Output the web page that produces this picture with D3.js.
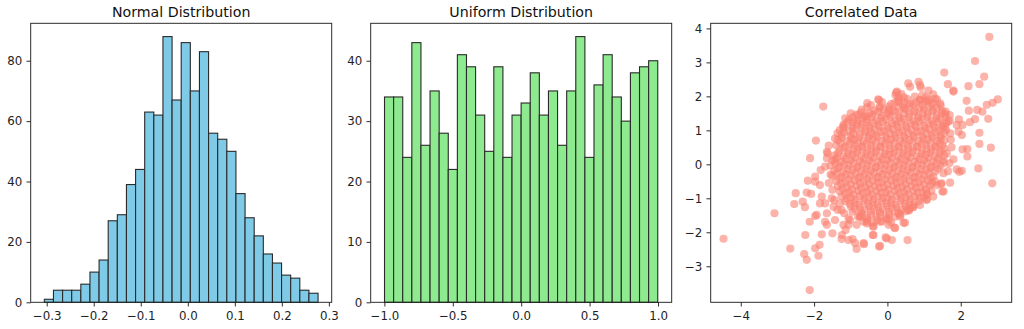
<!DOCTYPE html>
<html><head><meta charset="utf-8">
<script src="https://cdn.jsdelivr.net/npm/d3@7"></script>
<style>
html,body{margin:0;padding:0;background:#fff;}
svg{display:block;font-family:"DejaVu Sans",sans-serif;}
</style></head>
<body>
<svg id="chart" width="1024" height="329"></svg>
<script>
// ---------- DATA ----------
const normalCounts = [1,4,4,4,6,10,14,27,29,39,44,63,62,88,67,86,70,83,56,54,50,36,28,22,16,13,9,8,4,3];
const normalRange = [-0.305, 0.277];
const uniformCounts = [34,34,24,43,26,35,28,22,41,39,31,25,39,24,31,33,38,31,35,26,35,44,24,36,41,34,30,38,39,40];
const uniformRange = [-0.999, 0.998];

const normalXTicks = [-0.3,-0.2,-0.1,0.0,0.1,0.2,0.3];
const normalYTicks = [0,20,40,60,80];
const uniformXTicks = [-1.0,-0.5,0.0,0.5,1.0];
const uniformYTicks = [0,10,20,30,40];
const scatterXTicks = [-4,-2,0,2];
const scatterYTicks = [-3,-2,-1,0,1,2,3,4];

const titles = ["Normal Distribution","Uniform Distribution","Correlated Data"];

// outlying points
const scatterOuter = [
[2.78,3.75],[2.39,3.04],[1.55,2.70],[2.64,2.58],[1.65,2.36],[2.21,2.30],[2.51,2.36],[1.80,2.17],
[3.01,1.91],[2.87,1.81],[2.71,1.75],[2.16,1.87],[2.22,1.58],[2.45,1.60],[2.59,1.55],[2.39,1.33],
[2.75,1.34],[2.25,1.24],[1.95,1.32],[2.05,1.16],[2.51,0.93],[1.94,0.96],[2.03,0.86],[2.51,0.60],
[2.82,0.49],[2.05,0.44],[2.18,0.45],[2.18,0.23],[2.48,-0.12],[1.96,-0.22],[2.03,-0.19],[2.86,-0.56],
[1.71,-0.54],[1.48,-0.56],[1.50,-0.80],[-1.75,1.70],[-1.95,0.70],[-2.11,0.18],[-2.17,-0.48],[-2.50,-0.85],
[-2.54,-1.17],[-2.31,-1.10],[-2.25,-1.26],[-2.20,-0.83],[-2.08,-0.87],[-3.08,-1.44],[-4.47,-2.19],[-1.93,-1.49],
[-1.97,-1.52],[-2.12,-1.69],[-2.24,-2.08],[-2.65,-2.48],[-1.97,-2.47],[-1.85,-2.37],[-2.27,-2.64],[-2.20,-2.81],
[-1.88,-2.69],[-2.12,-3.70],[-1.79,-2.06],[-1.65,-1.78],[-1.50,-2.03],[-1.65,-1.44],[-1.25,-2.20],[-0.95,-2.20],
[-0.84,-2.49],[-0.64,-2.35],[-0.23,-2.42],[-0.05,-2.15],[0.12,-2.23],[0.55,-2.23],[-0.40,-2.08],[-1.14,-1.93],
[-1.06,-1.78],[-0.84,-1.78],[0.19,-1.86],[0.03,-1.78],[0.44,-1.72],[0.59,-1.36],[0.89,-1.20],[1.07,-1.05],
[1.25,-0.95],[0.57,2.38],[0.85,2.43],[0.62,2.28],[0.91,2.26],[1.12,2.17],[0.24,2.11],[0.30,1.97],
[-0.23,1.89],[0.30,1.84],[0.89,1.89],[1.12,1.91],[1.35,1.91],[1.44,1.79],[-0.20,1.70],[0.05,1.60],
[0.45,1.65],[0.62,1.79],[1.59,1.55],[1.66,1.25],[1.57,1.11],[1.89,1.16],[1.71,0.91],[1.73,0.72],
[-0.79,1.45],[-0.61,1.40],[-0.93,1.25],[-1.20,1.11],[-1.36,0.91],[-1.43,0.76],[-1.63,0.32],[-1.65,0.18],
[-1.70,-0.07],[-1.82,-0.17],[-1.97,-0.36],[-1.97,-0.51],[-1.84,-0.61],[-1.79,-0.95],[-1.70,-1.15],[-1.52,-1.00],
[-1.47,-1.25],[-1.43,-1.64],[-1.36,-1.34],[-1.18,-1.44],[-1.06,-1.59],[-0.75,-1.54],[-0.56,-1.69],[-0.38,-1.83],
[-0.20,-1.69],[0.35,-1.54],[0.71,-1.25],[1.07,-0.85],[1.35,-0.61],[1.53,-0.26],[1.69,0.03],[1.62,0.32]
];

// points around the edge of the dense core
const scatterHalo = [
[-1.24,-2.08],[-1.06,-2.23],[-0.88,-2.32],[-0.65,-2.32],[-0.38,-2.08],[-0.20,-2.40],[-0.02,-2.18],[0.21,-1.88],
[0.48,-1.72],[0.03,-1.62],[0.35,-1.49],[0.57,-1.34],[1.07,-1.03],[1.53,-0.80],[1.46,-0.58],[1.89,-0.15],
[-0.56,-1.74],[-0.39,-1.83],[-0.74,-1.54],[-1.02,-1.64],[-1.20,-1.78],[-1.84,-1.15],[-1.70,-1.69],[0.26,2.14],
[0.89,2.33],[1.80,2.14],[-1.65,0.37],[-1.43,0.13],[-1.60,0.55],[-1.55,-0.30],[-1.60,-0.55],[-1.50,-0.75],
[-1.45,-1.05],[-1.30,-1.15],[-1.25,-1.35],[-1.15,1.35],[-1.00,1.50],[-0.55,1.80],[1.75,0.50],[1.70,1.45],
[1.80,0.15],[1.65,-0.20]
];

// dense core points estimated from the blob
const scatterCore = [
[0.22,2.04],[0.38,2.07],[0.95,2.03],[1.25,2.06],
[-0.25,1.91],[0.30,1.88],[0.55,1.92],[0.88,1.90],[1.10,1.87],[1.30,1.93],
[-0.45,1.74],[0.10,1.77],[0.42,1.73],[0.70,1.76],[0.95,1.74],[1.20,1.77],[1.45,1.73],
[-0.70,1.61],[-0.35,1.58],[-0.10,1.62],[0.15,1.59],[0.50,1.61],[0.75,1.58],[1.00,1.62],[1.25,1.60],[1.50,1.57],
[-0.85,1.46],[-0.60,1.44],[-0.40,1.47],[-0.15,1.43],[0.05,1.46],[0.30,1.44],[0.60,1.47],[0.85,1.43],[1.10,1.46],[1.35,1.44],[1.58,1.47],
[-1.05,1.31],[-0.80,1.28],[-0.55,1.32],[-0.30,1.29],[-0.05,1.31],[0.20,1.28],[0.45,1.32],[0.70,1.29],[0.95,1.31],[1.20,1.28],[1.45,1.32],[1.70,1.29],
[-1.20,1.16],[-0.95,1.13],[-0.70,1.17],[-0.50,1.14],[-0.25,1.16],[0.00,1.13],[0.25,1.17],[0.50,1.14],[0.75,1.16],[1.00,1.13],[1.25,1.17],[1.50,1.14],
[-1.30,1.01],[-1.05,0.98],[-0.85,1.02],[-0.60,0.99],[-0.35,1.01],[-0.10,0.98],[0.15,1.02],[0.40,0.99],[0.65,1.01],[0.90,0.98],[1.15,1.02],[1.40,0.99],[1.60,1.01],
[-1.25,0.86],[-1.00,0.83],[-0.75,0.87],[-0.50,0.84],[-0.30,0.86],[-0.05,0.83],[0.20,0.87],[0.45,0.84],[0.70,0.86],[0.95,0.83],[1.20,0.87],[1.45,0.84],
[-1.35,0.71],[-1.10,0.68],[-0.90,0.72],[-0.65,0.69],[-0.40,0.71],[-0.15,0.68],[0.10,0.72],[0.35,0.69],[0.60,0.71],[0.85,0.68],[1.10,0.72],[1.35,0.69],[1.55,0.71],
[-1.40,0.56],[-1.15,0.53],[-0.90,0.57],[-0.70,0.54],[-0.45,0.56],[-0.20,0.53],[0.05,0.57],[0.30,0.54],[0.55,0.56],[0.80,0.53],[1.05,0.57],[1.30,0.54],[1.50,0.56],
[-1.30,0.41],[-1.05,0.38],[-0.80,0.42],[-0.55,0.39],[-0.30,0.41],[-0.05,0.38],[0.20,0.42],[0.45,0.39],[0.70,0.41],[0.95,0.38],[1.20,0.42],[1.45,0.39],
[-1.45,0.26],[-1.20,0.23],[-0.95,0.27],[-0.70,0.24],[-0.45,0.26],[-0.20,0.23],[0.05,0.27],[0.30,0.24],[0.55,0.26],[0.80,0.23],[1.05,0.27],[1.30,0.24],[1.55,0.26],
[-1.50,0.11],[-1.25,0.08],[-1.00,0.12],[-0.75,0.09],[-0.50,0.11],[-0.25,0.08],[0.00,0.12],[0.25,0.09],[0.50,0.11],[0.75,0.08],[1.00,0.12],[1.25,0.09],[1.50,0.11],
[-1.55,-0.04],[-1.30,-0.07],[-1.05,-0.03],[-0.80,-0.06],[-0.55,-0.04],[-0.30,-0.07],[-0.05,-0.03],[0.20,-0.06],[0.45,-0.04],[0.70,-0.07],[0.95,-0.03],[1.20,-0.06],[1.45,-0.04],
[-1.45,-0.19],[-1.20,-0.22],[-0.95,-0.18],[-0.70,-0.21],[-0.45,-0.19],[-0.20,-0.22],[0.05,-0.18],[0.30,-0.21],[0.55,-0.19],[0.80,-0.22],[1.05,-0.18],[1.30,-0.21],
[-1.50,-0.34],[-1.25,-0.37],[-1.00,-0.33],[-0.75,-0.36],[-0.50,-0.34],[-0.25,-0.37],[0.00,-0.33],[0.25,-0.36],[0.50,-0.34],[0.75,-0.37],[1.00,-0.33],[1.25,-0.36],
[-1.40,-0.49],[-1.15,-0.52],[-0.90,-0.48],[-0.65,-0.51],[-0.40,-0.49],[-0.15,-0.52],[0.10,-0.48],[0.35,-0.51],[0.60,-0.49],[0.85,-0.52],[1.10,-0.48],[1.30,-0.51],
[-1.35,-0.64],[-1.10,-0.67],[-0.85,-0.63],[-0.60,-0.66],[-0.35,-0.64],[-0.10,-0.67],[0.15,-0.63],[0.40,-0.66],[0.65,-0.64],[0.90,-0.67],[1.15,-0.63],
[-1.30,-0.79],[-1.05,-0.82],[-0.80,-0.78],[-0.55,-0.81],[-0.30,-0.79],[-0.05,-0.82],[0.20,-0.78],[0.45,-0.81],[0.70,-0.79],[0.95,-0.82],[1.20,-0.78],
[-1.25,-0.94],[-1.00,-0.97],[-0.75,-0.93],[-0.50,-0.96],[-0.25,-0.94],[0.00,-0.97],[0.25,-0.93],[0.50,-0.96],[0.75,-0.94],[1.00,-0.97],
[-1.15,-1.09],[-0.90,-1.12],[-0.65,-1.08],[-0.40,-1.11],[-0.15,-1.09],[0.10,-1.12],[0.35,-1.08],[0.60,-1.11],[0.85,-1.09],
[-1.00,-1.24],[-0.75,-1.27],[-0.50,-1.23],[-0.25,-1.26],[0.00,-1.24],[0.25,-1.27],[0.50,-1.23],[0.70,-1.26],
[-0.95,-1.39],[-0.70,-1.42],[-0.45,-1.38],[-0.20,-1.41],[0.05,-1.39],[0.30,-1.42],[0.50,-1.38],
[-0.80,-1.54],[-0.55,-1.57],[-0.30,-1.53],[-0.05,-1.56],[0.20,-1.54],
[-0.65,-1.69],[-0.40,-1.72],[-0.15,-1.68],[0.10,-1.71]
];

// second, interleaved layer of the dense core
const scatterCore2 = [
[0.45,1.97],[0.75,1.99],[1.05,1.96],
[-0.15,1.83],[0.20,1.81],[0.45,1.84],[0.78,1.82],[1.02,1.85],[1.25,1.81],
[-0.55,1.68],[-0.22,1.66],[0.03,1.69],[0.30,1.67],[0.60,1.70],[0.87,1.66],[1.12,1.69],[1.35,1.67],
[-0.72,1.53],[-0.48,1.51],[-0.25,1.54],[0.00,1.52],[0.22,1.55],[0.45,1.51],[0.72,1.54],[0.97,1.52],[1.22,1.55],[1.47,1.51],
[-0.95,1.38],[-0.68,1.36],[-0.43,1.39],[-0.18,1.37],[0.08,1.40],[0.33,1.36],[0.58,1.39],[0.83,1.37],[1.08,1.40],[1.33,1.36],[1.58,1.39],
[-1.10,1.23],[-0.83,1.21],[-0.58,1.24],[-0.37,1.22],[-0.12,1.25],[0.13,1.21],[0.38,1.24],[0.63,1.22],[0.88,1.25],[1.13,1.21],[1.38,1.24],[1.60,1.22],
[-1.20,1.08],[-0.95,1.06],[-0.72,1.09],[-0.47,1.07],[-0.22,1.10],[0.03,1.06],[0.28,1.09],[0.53,1.07],[0.78,1.10],[1.03,1.06],[1.28,1.09],[1.50,1.07],
[-1.18,0.93],[-0.93,0.91],[-0.62,0.94],[-0.42,0.92],[-0.17,0.95],[0.07,0.91],[0.32,0.94],[0.57,0.92],[0.82,0.95],[1.07,0.91],[1.32,0.94],[1.55,0.92],
[-1.25,0.78],[-0.98,0.76],[-0.77,0.79],[-0.52,0.77],[-0.27,0.80],[-0.02,0.76],[0.23,0.79],[0.48,0.77],[0.73,0.80],[0.98,0.76],[1.23,0.79],[1.45,0.77],
[-1.28,0.63],[-1.02,0.61],[-0.80,0.64],[-0.57,0.62],[-0.32,0.65],[-0.07,0.61],[0.18,0.64],[0.43,0.62],[0.68,0.65],[0.93,0.61],[1.18,0.64],[1.42,0.62],
[-1.20,0.48],[-0.93,0.46],[-0.68,0.49],[-0.43,0.47],[-0.18,0.50],[0.07,0.46],[0.32,0.49],[0.57,0.47],[0.82,0.50],[1.07,0.46],[1.32,0.49],[1.55,0.47],
[-1.35,0.33],[-1.08,0.31],[-0.83,0.34],[-0.58,0.32],[-0.33,0.35],[-0.08,0.31],[0.17,0.34],[0.42,0.32],[0.67,0.35],[0.92,0.31],[1.17,0.34],[1.42,0.32],
[-1.38,0.18],[-1.13,0.16],[-0.88,0.19],[-0.63,0.17],[-0.38,0.20],[-0.13,0.16],[0.12,0.19],[0.37,0.17],[0.62,0.20],[0.87,0.16],[1.12,0.19],[1.38,0.17],
[-1.42,0.03],[-1.18,0.01],[-0.93,0.04],[-0.68,0.02],[-0.43,0.05],[-0.18,0.01],[0.07,0.04],[0.32,0.02],[0.57,0.05],[0.82,0.01],[1.07,0.04],[1.33,0.02],[1.55,0.05],
[-1.35,-0.12],[-1.08,-0.14],[-0.83,-0.11],[-0.58,-0.13],[-0.33,-0.10],[-0.08,-0.14],[0.17,-0.11],[0.42,-0.13],[0.67,-0.10],[0.92,-0.14],[1.17,-0.11],[1.38,-0.13],
[-1.38,-0.27],[-1.13,-0.29],[-0.88,-0.26],[-0.63,-0.28],[-0.38,-0.25],[-0.13,-0.29],[0.12,-0.26],[0.37,-0.28],[0.62,-0.25],[0.87,-0.29],[1.12,-0.26],
[-1.30,-0.42],[-1.05,-0.44],[-0.80,-0.41],[-0.55,-0.43],[-0.30,-0.40],[-0.05,-0.44],[0.20,-0.41],[0.45,-0.43],[0.70,-0.40],[0.95,-0.44],[1.18,-0.41],
[-1.25,-0.57],[-1.00,-0.59],[-0.75,-0.56],[-0.50,-0.58],[-0.25,-0.55],[0.00,-0.59],[0.25,-0.56],[0.50,-0.58],[0.75,-0.55],[1.00,-0.59],[1.22,-0.56],
[-1.22,-0.72],[-0.97,-0.74],[-0.72,-0.71],[-0.47,-0.73],[-0.22,-0.70],[0.03,-0.74],[0.28,-0.71],[0.53,-0.73],[0.78,-0.70],[1.05,-0.74],
[-1.15,-0.87],[-0.92,-0.89],[-0.67,-0.86],[-0.42,-0.88],[-0.17,-0.85],[0.08,-0.89],[0.33,-0.86],[0.58,-0.88],[0.83,-0.85],[1.08,-0.89],
[-1.10,-1.02],[-0.87,-1.04],[-0.62,-1.01],[-0.37,-1.03],[-0.12,-1.00],[0.13,-1.04],[0.38,-1.01],[0.63,-1.03],[0.88,-1.00],
[-1.02,-1.17],[-0.78,-1.19],[-0.53,-1.16],[-0.28,-1.18],[-0.03,-1.15],[0.22,-1.19],[0.47,-1.16],[0.72,-1.18],
[-0.88,-1.32],[-0.62,-1.34],[-0.37,-1.31],[-0.12,-1.33],[0.13,-1.30],[0.38,-1.34],[0.60,-1.31],
[-0.70,-1.47],[-0.45,-1.49],[-0.20,-1.46],[0.05,-1.48],[0.30,-1.45],
[-0.55,-1.62],[-0.28,-1.64],[-0.02,-1.61]
];

// ---------- LAYOUT ----------
const svg = d3.select("#chart");
const axLefts = [30.7, 370.7, 710.7];
const axTop = 23.3, axW = 301, axH = 279;
const tickFont = 11.8, titleFont = 14.2;
const minus = s => s.replace(/-/g, "\u2212");

function frame(i, x, y, xt, yt, xfmt, yfmt) {
  const g = svg.append("g").attr("transform", `translate(${axLefts[i]},${axTop})`);
  const content = g.append("g");
  const xa = g.append("g").attr("transform", `translate(0,${axH})`)
    .call(d3.axisBottom(x).tickValues(xt).tickFormat(d => minus(xfmt(d))).tickSize(4.2).tickPadding(4.2));
  const ya = g.append("g")
    .call(d3.axisLeft(y).tickValues(yt).tickFormat(d => minus(yfmt(d))).tickSize(4.2).tickPadding(4.2));
  [xa, ya].forEach(a => {
    a.select(".domain").remove();
    a.selectAll("line").attr("stroke", "#222").attr("stroke-width", 0.95);
    a.selectAll("text").attr("fill", "#222").attr("font-size", tickFont).attr("font-family", "DejaVu Sans");
  });
  xa.selectAll("text").attr("dy", "0.76em");
  g.append("rect").attr("x", 0).attr("y", 0).attr("width", axW).attr("height", axH)
    .attr("fill", "none").attr("stroke", "#222").attr("stroke-width", 0.95);
  svg.append("text").attr("x", axLefts[i] + axW / 2).attr("y", 16.5)
    .attr("text-anchor", "middle").attr("font-size", titleFont).attr("fill", "#111")
    .text(titles[i]);
  return content;
}

function hist(i, counts, range, xdom, ymax, xt, yt, xfmt, color) {
  const x = d3.scaleLinear().domain(xdom).range([0, axW]);
  const y = d3.scaleLinear().domain([0, ymax]).range([axH, 0]);
  const c = frame(i, x, y, xt, yt, xfmt, d3.format("d"));
  const bw = (range[1] - range[0]) / counts.length;
  c.selectAll("rect").data(counts).join("rect")
    .attr("x", (d, k) => x(range[0] + k * bw))
    .attr("width", (d, k) => x(range[0] + (k + 1) * bw) - x(range[0] + k * bw))
    .attr("y", d => y(d)).attr("height", d => axH - y(d))
    .attr("fill", color).attr("stroke", "#2a2a2a").attr("stroke-width", 1.1);
}

hist(0, normalCounts, normalRange, [-0.334, 0.306], d3.max(normalCounts) * 1.05,
     normalXTicks, normalYTicks, d3.format(".1f"), "#7fcbe7");
hist(1, uniformCounts, uniformRange, [-1.1, 1.1], d3.max(uniformCounts) * 1.05,
     uniformXTicks, uniformYTicks, d3.format(".1f"), "#8eea8e");

// scatter
{
  const x = d3.scaleLinear().domain([-4.82, 3.39]).range([0, axW]);
  const y = d3.scaleLinear().domain([-4.06, 4.15]).range([axH, 0]);
  const c = frame(2, x, y, scatterXTicks, scatterYTicks, d3.format("d"), d3.format("d"));
  const pts = scatterCore.concat(scatterCore2, scatterHalo, scatterOuter);
  c.selectAll("circle").data(pts).join("circle")
    .attr("cx", d => x(d[0])).attr("cy", d => y(d[1])).attr("r", 4.1)
    .attr("fill", "#fa8072").attr("fill-opacity", 0.6);
}
</script>
</body></html>
